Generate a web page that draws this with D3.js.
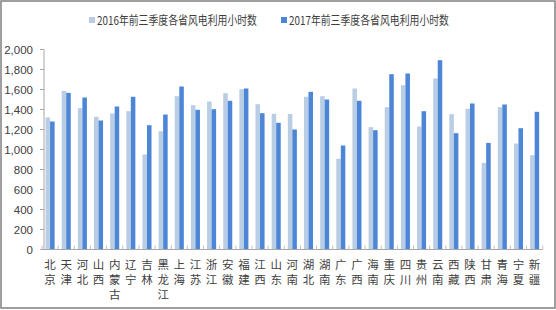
<!DOCTYPE html>
<html>
<head>
<meta charset="utf-8">
<script src="https://cdn.jsdelivr.net/npm/d3@7"></script>
<style>
  body { margin: 0; background: #fff; }
  text { font-family: "Noto Sans CJK SC", "Liberation Sans", sans-serif; fill: #404040; }
</style>
</head>
<body>
<div id="chart"></div>
<script>
const provinces = ["北京","天津","河北","山西","内蒙古","辽宁","吉林","黑龙江","上海","江苏","浙江","安徽","福建","江西","山东","河南",
  "湖北","湖南","广东","广西","海南","重庆","四川","贵州","云南","西藏","陕西","甘肃","青海","宁夏","新疆"];
const seriesNames = ["2016年前三季度各省风电利用小时数", "2017年前三季度各省风电利用小时数"];
const hours2016 = [1320,1586,1413,1327,1360,1383,950,1183,1533,1443,1480,1563,1603,1453,1357,1355,
  1527,1533,907,1610,1223,1423,1643,1230,1710,1353,1407,866,1423,1060,943];
const hours2017 = [1280,1566,1520,1290,1430,1527,1243,1350,1630,1397,1403,1487,1610,1363,1267,1200,
  1577,1500,1040,1487,1193,1753,1760,1383,1893,1163,1460,1066,1450,1213,1377];
const yTicks = [0,200,400,600,800,1000,1200,1400,1600,1800,2000];

const width = 556, height = 310;
const colors = ["#b9cde5", "#4d86d6"];

const svg = d3.select("#chart").append("svg")
    .attr("width", width)
    .attr("height", height);

svg.append("rect")
    .attr("x", 1).attr("y", 1)
    .attr("width", width - 2).attr("height", height - 3)
    .attr("fill", "#fff")
    .attr("stroke", "#808080")
    .attr("stroke-width", 1.5);

var x0 = d3.scaleBand().domain(provinces).range([42, 542.7]).paddingInner(0.44).paddingOuter(0.22);
var x1 = d3.scaleBand().domain([0, 1]).range([0, x0.bandwidth()]);
var y = d3.scaleLinear().domain([0, 2000]).range([249.5, 49.5]);

// y axis
var yAxis = svg.append("g").attr("transform", "translate(44,0)");
yAxis.append("line").attr("y1", y(0)).attr("y2", y(2000)).attr("stroke", "#a6a6a6");
yAxis.selectAll(".tick")
    .data(yTicks)
  .enter().append("line")
    .attr("x1", -4).attr("x2", 0)
    .attr("y1", d => y(d)).attr("y2", d => y(d))
    .attr("stroke", "#a6a6a6");
yAxis.selectAll(".lbl")
    .data(yTicks)
  .enter().append("text")
    .attr("x", -11)
    .attr("y", d => y(d))
    .attr("dy", "0.36em")
    .attr("text-anchor", "end")
    .style("font-size", "11.5px")
    .style("font-family", "'Liberation Sans Narrow', 'Liberation Sans', sans-serif")
    .text(d3.format(","));

// bars
var groups = svg.selectAll(".grp")
    .data(provinces)
  .enter().append("g")
    .attr("transform", d => "translate(" + x0(d) + ",0)");
groups.selectAll("rect")
    .data((d, i) => [hours2016[i], hours2017[i]])
  .enter().append("rect")
    .attr("x", (d, j) => x1(j))
    .attr("width", x1.bandwidth())
    .attr("y", d => y(d))
    .attr("height", d => y(0) - y(d))
    .attr("fill", (d, j) => colors[j]);

// x axis
svg.append("line")
    .attr("x1", 42).attr("x2", 542.7)
    .attr("y1", y(0)).attr("y2", y(0))
    .attr("stroke", "#a6a6a6");
svg.selectAll(".xtick")
    .data(d3.range(provinces.length + 1))
  .enter().append("line")
    .attr("x1", i => 42 + i * x0.step()).attr("x2", i => 42 + i * x0.step())
    .attr("y1", y(0)).attr("y2", y(0) - 4)
    .attr("stroke", "#bfbfbf");

var labels = svg.selectAll(".xl")
    .data(provinces)
  .enter().append("text")
    .attr("text-anchor", "middle")
    .style("font-size", "11.5px")
    .attr("x", d => x0(d) + x0.bandwidth() / 2);
labels.selectAll("tspan")
    .data(d => d.split(""))
  .enter().append("tspan")
    .attr("x", function() { return d3.select(this.parentNode).attr("x"); })
    .attr("y", (c, k) => 269 + k * 15)
    .text(c => c);

// legend
var legendX = [89, 281];
var legend = svg.selectAll(".leg")
    .data(seriesNames)
  .enter().append("g")
    .attr("transform", (d, i) => "translate(" + legendX[i] + ",0)");
legend.append("rect")
    .attr("x", 0).attr("y", 17)
    .attr("width", 6).attr("height", 6)
    .attr("fill", (d, i) => colors[i]);
legend.append("text")
    .attr("x", 8).attr("y", 24.5)
    .style("font-size", "12px")
    .attr("textLength", 160)
    .attr("lengthAdjust", "spacingAndGlyphs")
    .text(d => d);
</script>
</body>
</html>
